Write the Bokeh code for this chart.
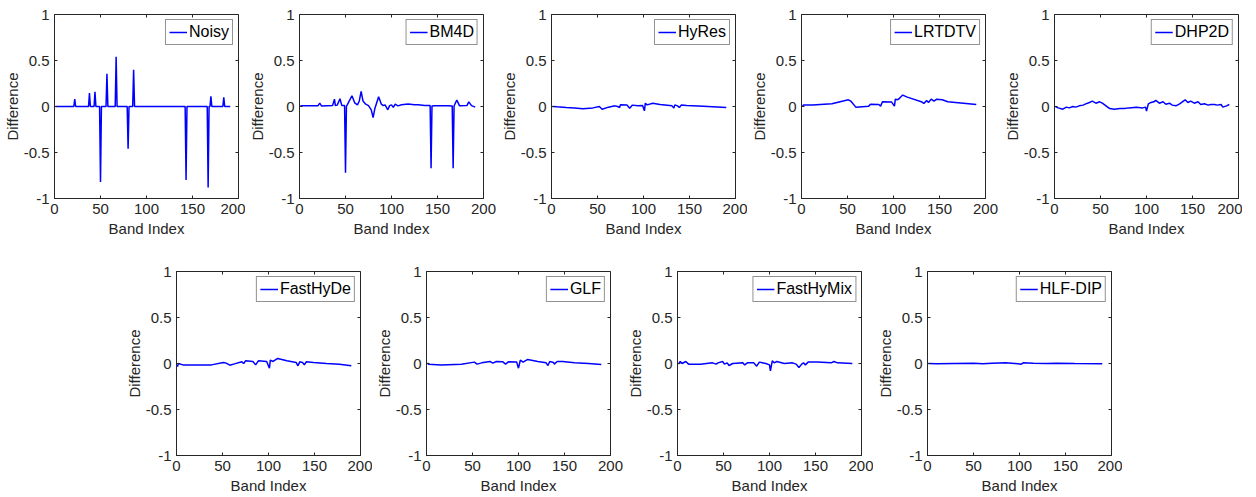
from bokeh.plotting import figure
from bokeh.models import Range1d, FixedTicker, Legend, LegendItem, Spacer
from bokeh.layouts import row, column
from bokeh.embed import file_html
from bokeh.resources import INLINE
import math

# ---------------- data (band index, difference) ----------------
noisy_band = [1, 21, 22, 23, 37, 38, 39, 43, 44, 45, 49, 50, 51, 56, 57, 58, 66, 67, 68,
              79, 80, 81, 85, 86, 87, 142, 143, 144, 166, 167, 168, 169, 170, 171,
              183, 184, 185, 191]
noisy_diff = [0, 0, 0.08, 0, 0, 0.145, 0, 0, 0.16, 0, 0, -0.82, 0, 0, 0.355, 0, 0, 0.54, 0,
              0, -0.46, 0, 0, 0.40, 0, 0, -0.80, 0, 0, -0.88, 0, 0, 0.11, 0,
              0, 0.10, 0, 0]

bm4d_band = [1, 20, 22, 24, 36, 38, 39, 41, 44, 46, 49, 50, 51, 53, 57, 60, 63, 65, 67, 69,
             72, 75, 78, 80, 82, 86, 89, 91, 93, 96, 98, 100, 102, 104, 107, 111, 118, 125,
             129, 136, 142, 143, 144, 147, 161, 166, 167, 168, 171, 174, 182, 184, 187, 191]
bm4d_diff = [0.007, 0.007, 0.036, 0.005, 0.01, 0.08, 0.01, 0.015, 0.084, 0.01, 0.01, -0.72,
             0.0, 0.04, 0.117, 0.04, 0.018, 0.06, 0.164, 0.06, 0.025, 0.01, -0.036, -0.12,
             -0.018, 0.106, 0.025, 0.01, 0.018, -0.036, 0.01, 0.018, -0.01, 0.025, 0.007,
             0.018, 0.026, 0.02, 0.018, 0.01, 0.01, -0.67, 0.005, 0.007, 0.007, 0.005, -0.67,
             0.005, 0.07, 0.007, 0.01, 0.05, 0.01, -0.007]

hyres_band = [1, 6, 16, 25, 34, 45, 52, 55, 62, 69, 72, 74, 75, 82, 85, 88, 94, 99, 101,
              102, 104, 110, 118, 131, 133, 134, 137, 139, 141, 147, 165, 190]
hyres_diff = [0.0, -0.004, -0.011, -0.015, -0.025, -0.015, 0.0, -0.03, -0.007, 0.007, 0.0,
              -0.011, 0.018, 0.015, -0.018, 0.015, 0.007, 0.011, -0.047, 0.036, 0.018, 0.036,
              0.022, 0.007, -0.018, 0.018, 0.007, -0.011, 0.015, 0.011, 0.004, -0.011]

lrtdtv_band = [1, 2, 12, 33, 51, 54, 59, 73, 75, 84, 86, 88, 98, 101, 102, 104, 106, 110,
               115, 131, 133, 136, 138, 141, 144, 147, 153, 159, 190]
lrtdtv_diff = [0.0, 0.015, 0.015, 0.03, 0.073, 0.055, -0.007, 0.004, 0.025, 0.022, 0.004,
               0.051, 0.048, 0.004, 0.08, 0.073, 0.084, 0.124, 0.102, 0.048, 0.033, 0.066,
               0.044, 0.08, 0.058, 0.08, 0.073, 0.051, 0.022]

dhp2d_band = [1, 4, 9, 13, 16, 20, 23, 27, 31, 34, 38, 41, 45, 49, 52, 56, 60, 65, 71, 76,
              81, 89, 96, 99, 100, 102, 105, 108, 110, 114, 118, 121, 125, 128, 132, 136,
              139, 142, 145, 148, 152, 156, 159, 163, 167, 170, 174, 177, 181, 183, 187, 190]
dhp2d_diff = [0.0, -0.015, -0.029, -0.007, -0.015, 0.0, -0.007, 0.007, 0.015, 0.029, 0.044,
              0.058, 0.036, 0.051, 0.036, 0.007, -0.022, -0.029, -0.022, -0.022, -0.015,
              -0.007, -0.015, -0.007, -0.051, 0.029, 0.044, 0.051, 0.066, 0.036, 0.051, 0.025,
              0.036, 0.015, 0.007, 0.029, 0.051, 0.073, 0.044, 0.058, 0.036, 0.051, 0.022,
              0.029, 0.015, 0.022, 0.022, 0.015, 0.022, -0.007, 0.007, 0.022]

fasthyde_band = [1, 2, 7, 29, 38, 51, 54, 58, 63, 71, 73, 75, 83, 86, 89, 98, 101, 102, 105,
                 110, 120, 130, 132, 134, 137, 139, 141, 149, 163, 177, 190]
fasthyde_diff = [-0.036, 0.0, -0.015, -0.015, -0.015, 0.011, 0.004, -0.018, -0.004, 0.018,
                 0.0, 0.029, 0.022, -0.015, 0.029, 0.022, -0.051, 0.036, 0.022, 0.055, 0.029,
                 0.011, -0.025, 0.018, 0.011, -0.015, 0.018, 0.011, 0.0, -0.007, -0.025]

glf_band = [1, 2, 16, 38, 52, 55, 60, 69, 72, 76, 83, 86, 89, 98, 100, 102, 105, 110, 121,
            130, 132, 134, 138, 139, 142, 148, 161, 176, 190]
glf_diff = [0.007, -0.007, -0.015, -0.007, 0.015, -0.007, 0.007, 0.022, 0.004, 0.022, 0.018,
            -0.007, 0.018, 0.015, -0.051, 0.036, 0.015, 0.044, 0.022, 0.007, -0.022, 0.022,
            0.011, -0.007, 0.022, 0.022, 0.007, 0.0, -0.011]

fasthymix_band = [1, 3, 5, 9, 12, 25, 38, 42, 44, 49, 51, 54, 56, 60, 71, 73, 76, 83, 86, 89,
                  96, 100, 101, 103, 105, 108, 116, 125, 129, 132, 135, 137, 139, 142, 152,
                  167, 170, 174, 190]
fasthymix_diff = [-0.007, 0.022, 0.0, 0.022, -0.007, -0.007, 0.007, -0.007, 0.007, 0.022,
                  -0.007, 0.007, -0.022, 0.0, 0.007, -0.015, 0.007, 0.007, -0.029, 0.015, 0.0,
                  -0.015, -0.08, 0.029, 0.007, 0.022, 0.0, 0.007, -0.007, -0.044, -0.007, 0.007,
                  -0.015, 0.015, 0.015, 0.007, 0.022, 0.007, 0.0]

hlfdip_band = [1, 10, 30, 50, 60, 70, 85, 95, 102, 104, 115, 130, 140, 160, 190]
hlfdip_diff = [0.0, -0.004, 0.0, 0.004, -0.004, 0.004, 0.007, 0.0, -0.007, 0.007, 0.004, 0.0,
               0.004, 0.0, -0.004]

x_ticks = [0, 50, 100, 150, 200]
y_ticks = [-1, -0.5, 0, 0.5, 1]
y_tick_labels = ["-1", "-0.5", "0", "0.5", "1"]

# ---------------- style ----------------
AX = "#262626"
FONT = "Liberation Sans"
BLUE = "#0000FF"
XMIN, XMAX, YMIN, YMAX = 0, 200, -1, 1


def panel(name, xs, ys, R, T, B):
    p = figure(frame_width=184, frame_height=184,
               x_range=Range1d(XMIN, XMAX), y_range=Range1d(YMIN, YMAX),
               output_backend="svg", toolbar_location=None,
               min_border_left=40, min_border_right=R,
               min_border_top=T, min_border_bottom=B,
               background_fill_color="white", border_fill_color="white")
    p.grid.visible = False
    p.outline_line_color = AX
    p.outline_line_width = 1
    r = p.line(xs, ys, line_color=BLUE, line_width=1.5)

    p.xaxis.ticker = FixedTicker(ticks=x_ticks)
    p.yaxis.ticker = FixedTicker(ticks=y_ticks)
    p.yaxis.major_label_overrides = {t: s for t, s in zip(y_ticks, y_tick_labels)}
    p.xaxis.axis_label = "Band Index"
    p.yaxis.axis_label = "Difference"
    for ax in (p.xaxis[0], p.yaxis[0]):
        ax.axis_line_color = AX
        ax.major_tick_line_color = AX
        ax.major_tick_in = 3
        ax.major_tick_out = 0
        ax.minor_tick_line_color = None
        ax.major_label_text_font = FONT
        ax.major_label_text_font_size = "15px"
        ax.major_label_text_color = AX
        ax.axis_label_text_font = FONT
        ax.axis_label_text_font_size = "15px"
        ax.axis_label_text_font_style = "normal"
        ax.axis_label_text_color = AX
    p.yaxis.major_label_standoff = 5
    p.yaxis.axis_label_standoff = 0
    p.xaxis.major_label_standoff = 5
    p.xaxis.axis_label_standoff = 3

    # mirrored inner ticks on the right and top edges of the box (clipped to the frame)
    p.scatter(x=[XMAX] * len(y_ticks), y=y_ticks, marker="dash", size=6,
              line_color=AX, line_width=1)
    p.scatter(x=x_ticks, y=[YMAX] * len(x_ticks), marker="dash", size=6, angle=math.pi / 2,
              line_color=AX, line_width=1)

    leg = Legend(items=[LegendItem(label=name, renderers=[r])], location="top_right",
                 label_text_font=FONT, label_text_font_size="16px", label_text_color="black",
                 border_line_color=AX, border_line_width=1, background_fill_color="white",
                 background_fill_alpha=1.0, padding=3, margin=5, glyph_width=18,
                 glyph_height=16, label_standoff=2, spacing=0, label_height=18)
    p.add_layout(leg)
    return p


top = [
    panel("Noisy", noisy_band, noisy_diff, 7, 14, 60),
    panel("BM4D", bm4d_band, bm4d_diff, 14, 14, 60),
    panel("HyRes", hyres_band, hyres_diff, 12, 14, 60),
    panel("LRTDTV", lrtdtv_band, lrtdtv_diff, 15, 14, 60),
    panel("DHP2D", dhp2d_band, dhp2d_diff, 4, 14, 60),
]
bottom = [
    panel("FastHyDe", fasthyde_band, fasthyde_diff, 12, 13, 40),
    panel("GLF", glf_band, glf_diff, 13, 13, 40),
    panel("FastHyMix", fasthymix_band, fasthymix_diff, 12, 13, 40),
    panel("HLF-DIP", hlfdip_band, hlfdip_diff, 11, 13, 40),
]

layout = column(row(*top), row(Spacer(width=122, height=10), *bottom))

with open("out.html", "w") as f:
    f.write(file_html(layout, INLINE))
